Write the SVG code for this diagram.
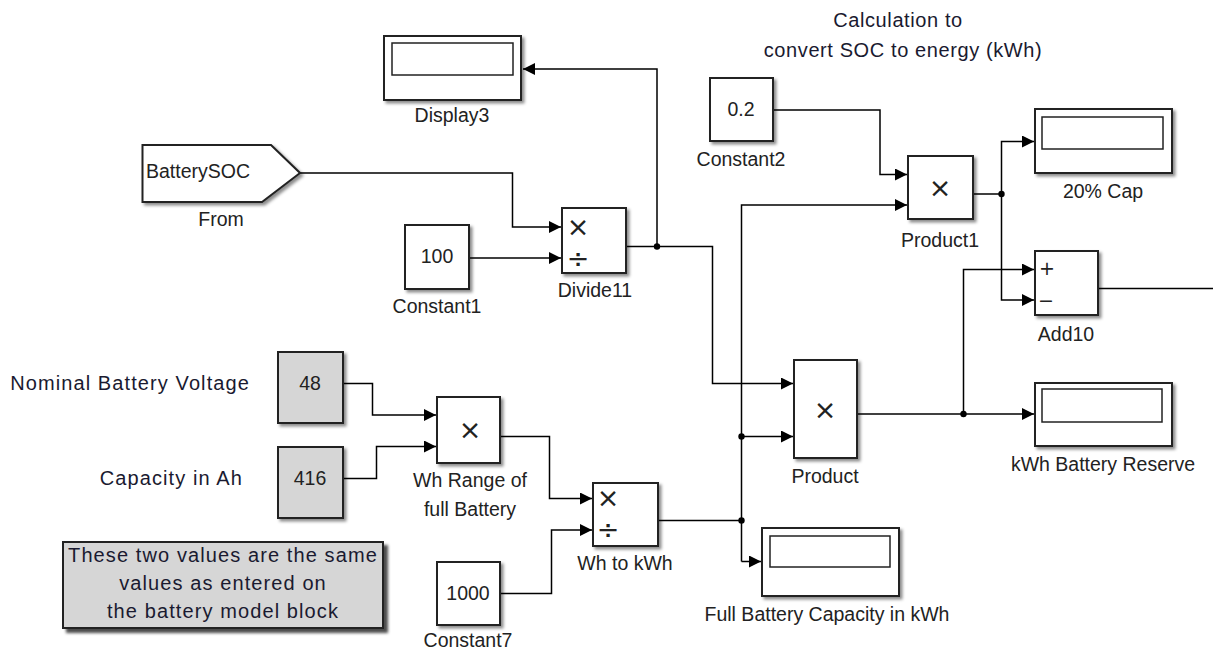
<svg xmlns="http://www.w3.org/2000/svg" width="1213" height="655" viewBox="0 0 1213 655">
<defs>
<filter id="sh" x="-20%" y="-20%" width="150%" height="150%">
<feDropShadow dx="2.5" dy="2.5" stdDeviation="1.8" flood-color="#000" flood-opacity="0.45"/>
</filter>
<filter id="sh2" x="-10%" y="-20%" width="130%" height="150%">
<feDropShadow dx="4" dy="4" stdDeviation="1.5" flood-color="#000" flood-opacity="0.7"/>
</filter>
<marker id="ar" viewBox="0 0 10 10" refX="10" refY="5" markerWidth="12" markerHeight="12" markerUnits="userSpaceOnUse" orient="auto">
<path d="M0,0 L10,5 L0,10 z" fill="#000"/>
</marker>
</defs>
<style>
.blk{fill:#fff;stroke:#222;stroke-width:2;filter:url(#sh)}
.gblk{fill:#d6d6d6;stroke:#222;stroke-width:2;filter:url(#sh)}
.inner{fill:#fff;stroke:#222;stroke-width:1.5}
.lbl{font-family:"Liberation Sans",Arial,sans-serif;font-size:19.5px;fill:#222;text-anchor:middle;dominant-baseline:central}
.ann{font-family:"Liberation Sans",Arial,sans-serif;font-size:20px;letter-spacing:1.1px;fill:#1a1a30;dominant-baseline:central}
.sym{font-family:"DejaVu Sans",sans-serif;font-size:27px;fill:#222;text-anchor:middle;dominant-baseline:central}
.wire{fill:none;stroke:#000;stroke-width:1.5}
.arr{marker-end:url(#ar)}
</style>
<rect width="1213" height="655" fill="#fff"/>

<g id="title">
<text class="ann" x="898" y="20" text-anchor="middle" style="letter-spacing:0.6px">Calculation to</text>
<text class="ann" x="903" y="50" text-anchor="middle" style="letter-spacing:0.6px">convert SOC to energy (kWh)</text>
</g>

<g id="connectors">
<path class="wire arr" d="M300,173 H512.5 V227 H561"/>
<path class="wire arr" d="M469,258 H561"/>
<path class="wire arr" d="M626,246.5 H712.5 V383.5 H793"/>
<path class="wire arr" d="M657,246.5 V69 H523"/>
<path class="wire arr" d="M773,110 H880 V174.5 H907"/>
<path class="wire arr" d="M741.5,561.5 V205 H907"/>
<path class="wire arr" d="M741.5,561.5 H761"/>
<path class="wire" d="M658,520.5 H741.5"/>
<path class="wire arr" d="M741.5,436.5 H793"/>
<path class="wire" d="M973,194 H1001.5"/>
<path class="wire arr" d="M1001.5,194 V141.5 H1034"/>
<path class="wire arr" d="M1001.5,194 V300 H1034"/>
<path class="wire arr" d="M857,414 H1034"/>
<path class="wire arr" d="M963.5,414 V269.5 H1034"/>
<path class="wire" d="M1098,288.5 H1213"/>
<path class="wire arr" d="M343,383.5 H372.5 V415 H436"/>
<path class="wire arr" d="M343,478.5 H376.5 V446.5 H436"/>
<path class="wire arr" d="M500,436.5 H549.5 V498.5 H592"/>
<path class="wire arr" d="M500,593.5 H551.5 V530 H592"/>
<circle cx="657" cy="246.5" r="3.2" fill="#000"/>
<circle cx="1001.5" cy="194" r="3.2" fill="#000"/>
<circle cx="963.5" cy="414" r="3.2" fill="#000"/>
<circle cx="741.5" cy="436.5" r="3.2" fill="#000"/>
<circle cx="741.5" cy="520.5" r="3.2" fill="#000"/>
</g>

<g id="Display3">
<rect class="blk" x="384" y="36" width="137" height="64"/>
<rect class="inner" x="392" y="43" width="121" height="32"/>
<text class="lbl" x="452" y="115">Display3</text>
</g>

<g id="From">
<path class="blk" d="M142.5,145 H271 L300,173 L262,202 H142.5 Z"/>
<text class="lbl" x="146" y="171" style="text-anchor:start">BatterySOC</text>
<text class="lbl" x="221" y="219">From</text>
</g>

<g id="Constant1">
<rect class="blk" x="405" y="225" width="64" height="64"/>
<text class="lbl" x="437" y="256">100</text>
<text class="lbl" x="437" y="306">Constant1</text>
</g>

<g id="Divide11">
<rect class="blk" x="562" y="208" width="64" height="65"/>
<text class="sym" x="578" y="226">×</text>
<text class="sym" x="578" y="258">÷</text>
<text class="lbl" x="595" y="290">Divide11</text>
</g>

<g id="Constant2">
<rect class="blk" x="710" y="78" width="63" height="63"/>
<text class="lbl" x="741" y="109">0.2</text>
<text class="lbl" x="741" y="159">Constant2</text>
</g>

<g id="Product1">
<rect class="blk" x="908" y="156" width="65" height="63"/>
<text class="sym" x="940" y="187">×</text>
<text class="lbl" x="940" y="240">Product1</text>
</g>

<g id="Cap20">
<rect class="blk" x="1035" y="109" width="137" height="64"/>
<rect class="inner" x="1042" y="117" width="121" height="32"/>
<text class="lbl" x="1103" y="191">20% Cap</text>
</g>

<g id="Add10">
<rect class="blk" x="1035" y="251" width="63" height="64"/>
<text class="sym" x="1047" y="268" style="font-size:19px">+</text>
<text class="sym" x="1046" y="300" style="font-size:19px">−</text>
<text class="lbl" x="1066" y="334">Add10</text>
</g>

<g id="Product">
<rect class="blk" x="794" y="360" width="63" height="98"/>
<text class="sym" x="825" y="409">×</text>
<text class="lbl" x="825" y="476">Product</text>
</g>

<g id="kWhReserve">
<rect class="blk" x="1035" y="383" width="137" height="63"/>
<rect class="inner" x="1042" y="389" width="120" height="33"/>
<text class="lbl" x="1103" y="464">kWh Battery Reserve</text>
</g>

<g id="Voltage">
<text class="ann" x="250" y="383" style="text-anchor:end">Nominal Battery Voltage</text>
<rect class="gblk" x="278" y="352" width="65" height="71"/>
<text class="lbl" x="310" y="383">48</text>
</g>

<g id="Capacity">
<text class="ann" x="243" y="478" style="text-anchor:end">Capacity in Ah</text>
<rect class="gblk" x="278" y="447" width="65" height="71"/>
<text class="lbl" x="310" y="478">416</text>
</g>

<g id="WhRange">
<rect class="blk" x="437" y="397" width="63" height="66"/>
<text class="sym" x="470" y="429">×</text>
<text class="lbl" x="470" y="480">Wh Range of</text>
<text class="lbl" x="470" y="509">full Battery</text>
</g>

<g id="WhTokWh">
<rect class="blk" x="593" y="483" width="65" height="63"/>
<text class="sym" x="608" y="497">×</text>
<text class="sym" x="608" y="529">÷</text>
<text class="lbl" x="625" y="563">Wh to kWh</text>
</g>

<g id="Constant7">
<rect class="blk" x="437" y="562" width="63" height="63"/>
<text class="lbl" x="468" y="593">1000</text>
<text class="lbl" x="468" y="640">Constant7</text>
</g>

<g id="FullCap">
<rect class="blk" x="762" y="528" width="137" height="68"/>
<rect class="inner" x="770" y="536" width="120" height="31"/>
<text class="lbl" x="827" y="614">Full Battery Capacity in kWh</text>
</g>

<g id="Note">
<rect x="63" y="542" width="320" height="86" fill="#d6d6d6" stroke="#222" stroke-width="2" filter="url(#sh2)"/>
<text class="ann" x="223" y="555" style="text-anchor:middle">These two values are the same</text>
<text class="ann" x="223" y="583" style="text-anchor:middle">values as entered on</text>
<text class="ann" x="223" y="611" style="text-anchor:middle">the battery model block</text>
</g>
</svg>
